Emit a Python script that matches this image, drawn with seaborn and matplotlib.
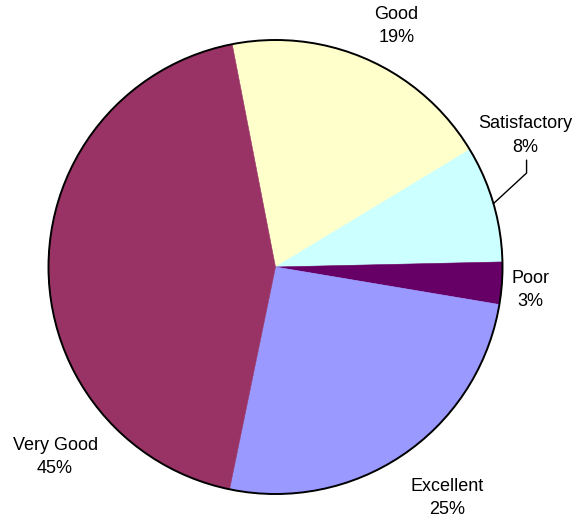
import matplotlib
matplotlib.use("Agg")
import matplotlib.pyplot as plt
import seaborn as sns
import numpy as np

# ---- data ----
categories = ["Good", "Satisfactory", "Poor", "Excellent", "Very Good"]
values = [19.4, 8.3, 3.0, 25.6, 43.7]
pct_labels = ["19%", "8%", "3%", "25%", "45%"]
colors = ["#FFFFCC", "#CCFFFF", "#660066", "#9999FF", "#993366"]

sns.set_theme(style="white")
plt.rcParams["font.family"] = ["Liberation Sans", "DejaVu Sans"]

fig = plt.figure(figsize=(5.77, 5.25), dpi=100)
ax = fig.add_axes([0, 0, 1, 1])

wedges, _ = ax.pie(values, colors=colors, startangle=101.0, counterclock=False,
                   wedgeprops=dict(edgecolor="none", linewidth=0), radius=1.0)
for w, c in zip(wedges, colors):
    w.set_edgecolor(c)
    w.set_linewidth(0.4)
ax.add_patch(plt.Circle((0, 0), 1.0, fill=False, lw=1.4, color="black", zorder=5))

# label positions (in radius units)
label_pos = {
    "Good": (0.533, 1.062),
    "Satisfactory": (1.101, 0.580),
    "Poor": (1.123, -0.101),
    "Excellent": (0.758, -1.018),
    "Very Good": (-0.971, -0.838),
}
for cat, pct in zip(categories, pct_labels):
    x, y = label_pos[cat]
    ax.text(x, y, f"{cat}\n{pct}", ha="center", va="center", fontsize=13,
            linespacing=1.5, color="black")

# leader line for Satisfactory
ang = np.deg2rad(101.0 - 360 * (values[0] + values[1] / 2) / sum(values))
x0, y0 = np.cos(ang), np.sin(ang)
ax.plot([x0, 1.106, 1.106], [y0, 0.414, 0.471], color="black", lw=1.0, zorder=6)

ax.set_xlim(-275.5 / 227, (577 - 275.5) / 227)
ax.set_ylim(-(525 - 267) / 227, 267 / 227)
ax.set_aspect("equal")
ax.axis("off")

fig.savefig("out.png", dpi=100)
